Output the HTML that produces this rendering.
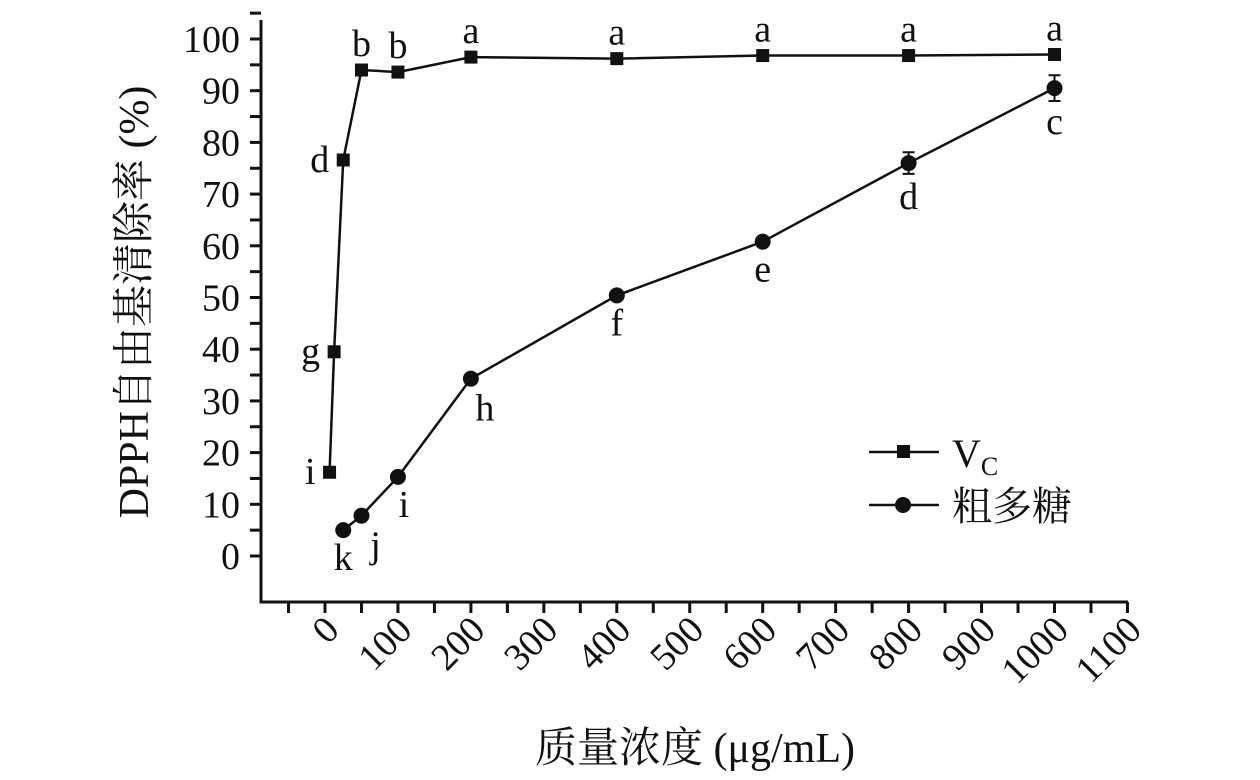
<!DOCTYPE html>
<html><head><meta charset="utf-8"><style>
html,body{margin:0;padding:0;background:#fff;}
svg{display:block;font-family:"Liberation Serif","Noto Serif CJK SC",serif;}
</style></head><body>
<svg id="chart" width="1260" height="780" viewBox="0 0 1260 780" xmlns="http://www.w3.org/2000/svg"></svg>
<script>
const vcX = [6.25, 12.5, 25, 50, 100, 200, 400, 600, 800, 1000];
const vcY = [16.2, 39.5, 76.6, 94.0, 93.6, 96.5, 96.2, 96.8, 96.8, 97.0];
const vcLabels = ['i','g','d','b','b','a','a','a','a','a'];
const psX = [25, 50, 100, 200, 400, 600, 800, 1000];
const psY = [5.0, 7.8, 15.3, 34.3, 50.4, 60.8, 76.0, 90.5];
const psErr = [0, 0, 0, 0, 0, 0, 2.1, 2.5];
const psLabels = ['k','j','i','h','f','e','d','c'];
const yTicks = [0,10,20,30,40,50,60,70,80,90,100];
const xTicks = [0,100,200,300,400,500,600,700,800,900,1000,1100];

const svg = document.getElementById('chart');
const NS = 'http://www.w3.org/2000/svg';
function X(v){ return 325 + v * 0.7295; }
function Y(v){ return 556 - v * 5.17; }
function mk(tag, attrs, parent){
  const e = document.createElementNS(NS, tag);
  for (const k in attrs) e.setAttribute(k, attrs[k]);
  (parent || svg).appendChild(e);
  return e;
}
const axes = mk('g', {});


mk('path', {d:'M261 20 V602 H1128', fill:'none', stroke:'#111', 'stroke-width':3}, axes);
for (let v = 0; v <= 105; v += 5) {
  mk('line', {x1:250, x2:261, y1:Y(v), y2:Y(v), stroke:'#111', 'stroke-width':3}, axes);
}
yTicks.forEach(v => {
  const t = mk('text', {x:240, y:Y(v)+13, 'text-anchor':'end', 'font-size':38, fill:'#111'}, axes);
  
  
  t.textContent = v;
});
for (let v = -50; v <= 1100; v += 50) {
  mk('line', {x1:X(v), x2:X(v), y1:602, y2:613, stroke:'#111', 'stroke-width':3}, axes);
}
xTicks.forEach(v => {
  const x = X(v) + 16, y = 632;
  const t = mk('text', {x:x, y:y, 'text-anchor':'end', 'font-size':38, fill:'#111', transform:'rotate(-45 '+x+' '+y+')'}, axes);
  
  
  t.textContent = v;
});
const yt = mk('text', {x:148, y:302, 'text-anchor':'middle', 'font-size':42, fill:'#111', transform:'rotate(-90 148 302)'});


yt.textContent = 'DPPH自由基清除率 (%)';
const xt = mk('text', {x:695, y:762, 'text-anchor':'middle', 'font-size':42, fill:'#111'});


xt.textContent = '质量浓度 (μg/mL)';

// Vc series
const vcG = mk('g', {});


mk('polyline', {points: vcX.map((x,i)=>X(x)+','+Y(vcY[i])).join(' '), fill:'none', stroke:'#111', 'stroke-width':2.5}, vcG);
vcX.forEach((x,i) => {
  const r = mk('rect', {x:X(x)-6.5, y:Y(vcY[i])-6.5, width:13, height:13, fill:'#111'}, vcG);
  
  
  const left = i < 3;
  const t = mk('text', {x: left ? X(x)-14 : X(x), y: left ? Y(vcY[i])+12 : Y(vcY[i])-14, 'text-anchor': left ? 'end' : 'middle', 'font-size':38, fill:'#111'}, vcG);
  
  
  t.textContent = vcLabels[i];
});
// polysaccharide series
const psG = mk('g', {});


mk('polyline', {points: psX.map((x,i)=>X(x)+','+Y(psY[i])).join(' '), fill:'none', stroke:'#111', 'stroke-width':2.5}, psG);
psX.forEach((x,i) => {
  const cx = X(x), cy = Y(psY[i]);
  if (psErr[i] > 0) {
    const e1 = Y(psY[i]+psErr[i]), e2 = Y(psY[i]-psErr[i]);
    mk('path', {d:'M'+cx+' '+e1+' V'+e2+' M'+(cx-6)+' '+e1+' H'+(cx+6)+' M'+(cx-6)+' '+e2+' H'+(cx+6), stroke:'#111', 'stroke-width':2, fill:'none'}, psG);
  }
  const c = mk('circle', {cx:cx, cy:cy, r:8, fill:'#111'}, psG);
  
  
  let dx = 0, dy = 40;
  if (i === 1) { dx = 14; dy = 42; }
  if (i === 2) { dx = 6; dy = 40; }
  if (i === 3) { dx = 14; dy = 42; }
  if (i >= 6) dy = 46;
  const t = mk('text', {x:cx+dx, y:cy+dy, 'text-anchor':'middle', 'font-size':38, fill:'#111'}, psG);
  
  
  t.textContent = psLabels[i];
});
// legend
const lg = mk('g', {});


mk('line', {x1:869, x2:939, y1:452, y2:452, stroke:'#111', 'stroke-width':2.5}, lg);
mk('rect', {x:897, y:445, width:13, height:13, fill:'#111'}, lg);
const l1 = mk('text', {x:952, y:467, 'font-size':40, fill:'#111'}, lg);


l1.innerHTML = 'V<tspan font-size="26" dy="8">C</tspan>';
mk('line', {x1:869, x2:939, y1:505, y2:505, stroke:'#111', 'stroke-width':2.5}, lg);
mk('circle', {cx:903, cy:505, r:8, fill:'#111'}, lg);
const l2 = mk('text', {x:952, y:520, 'font-size':40, fill:'#111'}, lg);


l2.textContent = '粗多糖';
</script>
</body></html>
